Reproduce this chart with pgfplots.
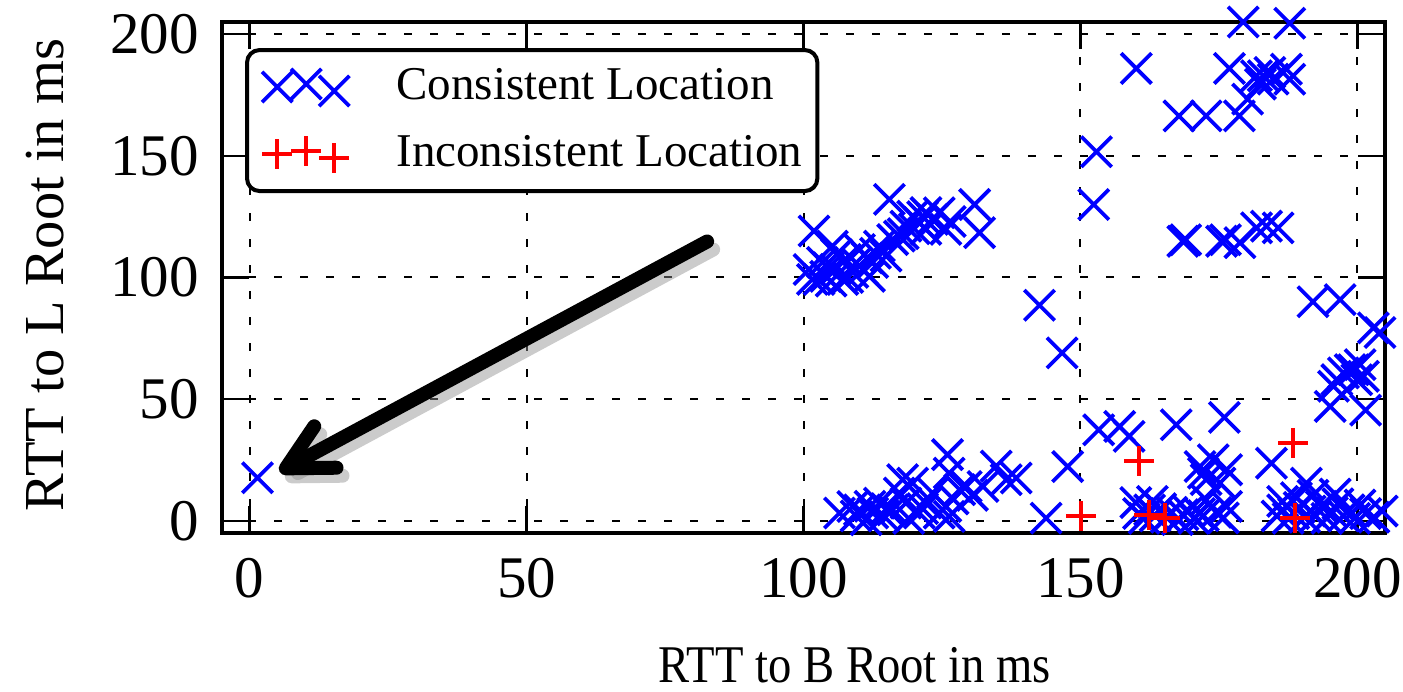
\documentclass[border=0pt]{standalone}
\usepackage{fontspec}
\setmainfont{Liberation Serif}
\usepackage{pgfplots}
\pgfplotsset{compat=1.18}
\usetikzlibrary{arrows.meta}

\begin{document}
\begin{tikzpicture}
\begin{axis}[
  name=ax,
  scale only axis, width=232.6pt, height=102.2pt,
  xmin=-5, xmax=205, ymin=-5, ymax=205,
  xtick={0,50,...,200}, ytick={0,50,...,200},
  tick align=inside, major tick length=5.4pt,
  tick style={black, line width=0.5pt},
  axis line style={line width=0.7pt},
  grid=major,
  major grid style={black, line width=0.4pt, dash pattern=on 1.6pt off 3.6pt},
  /pgf/number format/assume math mode=true,
  ticklabel style={font=\fontsize{11.8}{13}\selectfont},
  xticklabel style={anchor=north, inner sep=0pt, yshift=-4.8pt},
  yticklabel style={anchor=east, inner sep=0pt, xshift=-4.4pt},
  xlabel={RTT to B Root in ms},
  ylabel={RTT to L Root in ms},
  xlabel style={font=\fontsize{10.6}{12}\selectfont, xscale=0.88, at={(axis description cs:0.544,-0.258)}, anchor=center},
  ylabel style={font=\fontsize{11.3}{13}\selectfont, at={(axis description cs:-0.152,0.505)}, anchor=center},
  legend cell align=left,
  legend image code/.code={
    \draw[#1, only marks] plot coordinates {(0pt,0pt) (5.8pt,0.6pt) (11.4pt,-0.8pt)};
  },
  legend style={at={(axis description cs:0.0198,0.949)}, anchor=north west,
    draw=black, line width=0.8pt, rounded corners=2.5pt,
    font=\fontsize{9.4}{11}\selectfont,
    inner xsep=3pt, inner ysep=2.9pt, column sep=9.4pt, row sep=4.4pt,
    nodes={inner sep=0pt, text height=7pt, text depth=2pt}},
]
\addplot[only marks, mark=x, color=blue, mark size=4.3pt, mark options={line width=0.75pt}] coordinates {
(1.4,17.7)
(115.5,132.1) (101.9,119.1) (130.9,130.0) (131.8,118.4)
(101.0,103.3) (101.6,99.2) (103.4,106.2) (104.0,100.5) (105.2,112.9) (105.8,103.3) (107.1,99.2) (107.6,107.4) (108.9,102.1) (110.1,111.5) (110.7,103.3) (112.5,106.2) (113.7,112.9) (114.9,108.8) (116.1,115.6) (117.3,117.0) (118.5,121.1) (119.7,125.2) (120.9,122.6) (122.1,119.8) (123.3,123.9) (124.5,126.6) (125.7,119.8) (122.1,126.7) (111.9,100.5) (102.8,99.2) (106.0,109.5) (109.5,106.0) (104.5,104.0) (111.5,108.0) (113.0,110.0) (118.0,118.0) (120.0,120.0) (121.5,125.0) (126.5,123.0) (105.0,98.5) (108.0,100.0)
(142.6,88.6) (146.7,69.0) (152.9,151.7) (152.4,130.0)
(160.1,185.9) (176.9,185.9) (181.8,182.9) (183.0,182.9) (184.2,184.3) (187.2,185.6) (187.8,181.5) (184.8,181.5) (182.5,179.5) (180.2,173.3) (167.8,166.4) (172.7,166.4) (178.7,166.4) (179.4,205.0) (187.8,204.5)
(168.5,114.9) (169.0,115.5) (175.5,114.9) (176.2,115.5) (178.8,114.3) (181.8,120.4) (183.6,121.1) (185.7,120.4)
(192.0,90.0) (196.9,90.9) (202.9,79.3) (204.1,77.4) (196.3,58.0) (197.5,60.8) (199.3,62.1) (200.5,64.2) (199.9,58.0) (195.7,55.3) (201.1,59.4) (198.7,62.1) (195.1,47.0) (201.5,45.5) (176.0,42.5)
(126.0,27.2) (126.3,19.6) (134.8,22.5) (136.6,16.9) (138.4,17.6) (117.9,16.9) (119.7,15.5) (132.4,14.1) (129.4,14.1) (147.7,22.3) (153.3,37.4) (157.1,38.8) (158.8,34.7) (167.3,39.5) (172.2,19.6) (172.7,16.9) (171.6,22.3) (174.0,25.1) (176.4,21.0) (175.2,15.5) (172.7,8.6) (176.4,5.9) (184.5,23.7) (190.8,15.5)
(106.5,3.2) (110.1,4.5) (112.5,3.2) (113.7,7.3) (116.1,4.5) (118.5,7.3) (120.9,3.2) (122.1,7.3) (124.5,3.2) (125.7,5.9) (126.3,1.8) (123.3,11.4) (128.2,12.8) (111.3,0.4) (108.9,5.9) (117.3,11.4) (114.5,2.0) (119.0,1.0) (112.0,6.0) (115.0,5.0) (121.5,5.0) (109.5,2.0) (127.0,9.0) (130.5,10.5)
(143.8,1.1) (160.5,3.0) (161.5,1.0) (162.5,4.5) (163.5,2.0) (164.5,5.0) (165.5,1.5) (166.5,3.5) (167.5,0.5) (168.5,2.5) (169.5,4.0) (170.5,1.0) (171.5,3.0) (160.0,7.5) (163.0,8.0) (172.2,2.1) (175.8,1.2) (174.5,3.5)
(185.5,2.0) (186.5,4.5) (187.5,1.0) (188.5,3.0) (189.5,5.5) (190.5,1.5) (191.5,4.0) (192.5,2.0) (193.5,6.0) (194.5,1.0) (195.5,3.5) (196.5,7.0) (197.5,2.0) (198.5,4.5) (199.5,1.0) (200.5,6.5) (201.5,3.0) (203.0,1.5) (204.5,4.0) (189.0,9.5) (192.0,10.5) (196.0,11.0) (186.5,8.0)
};
\addlegendentry{Consistent Location}
\addplot[only marks, mark=+, color=red, mark size=3pt, mark options={line width=0.8pt}] coordinates {
(150.1,1.8) (160.6,24.4) (162.4,2.5) (165.2,1.1) (188.4,32.0) (188.7,1.1)
};
\addlegendentry{Inconsistent Location}
\draw[black!45, opacity=0.45, line width=2.8pt, line cap=round,
  -{Straight Barb[length=9pt, width=9.4pt, round]}, xshift=1.2pt, yshift=-1.6pt]
  (axis cs:82.6,114.8) -- (axis cs:5.4,20.2);
\draw[black, line width=2.8pt, line cap=round,
  -{Straight Barb[length=9pt, width=9.4pt, round]}]
  (axis cs:82.6,114.8) -- (axis cs:5.4,20.2);
\end{axis}
\pgfresetboundingbox
\path[use as bounding box] ([xshift=-44.4pt,yshift=-31.8pt]ax.south west) rectangle ([xshift=3.6pt,yshift=4.4pt]ax.north east);
\end{tikzpicture}
\end{document}
